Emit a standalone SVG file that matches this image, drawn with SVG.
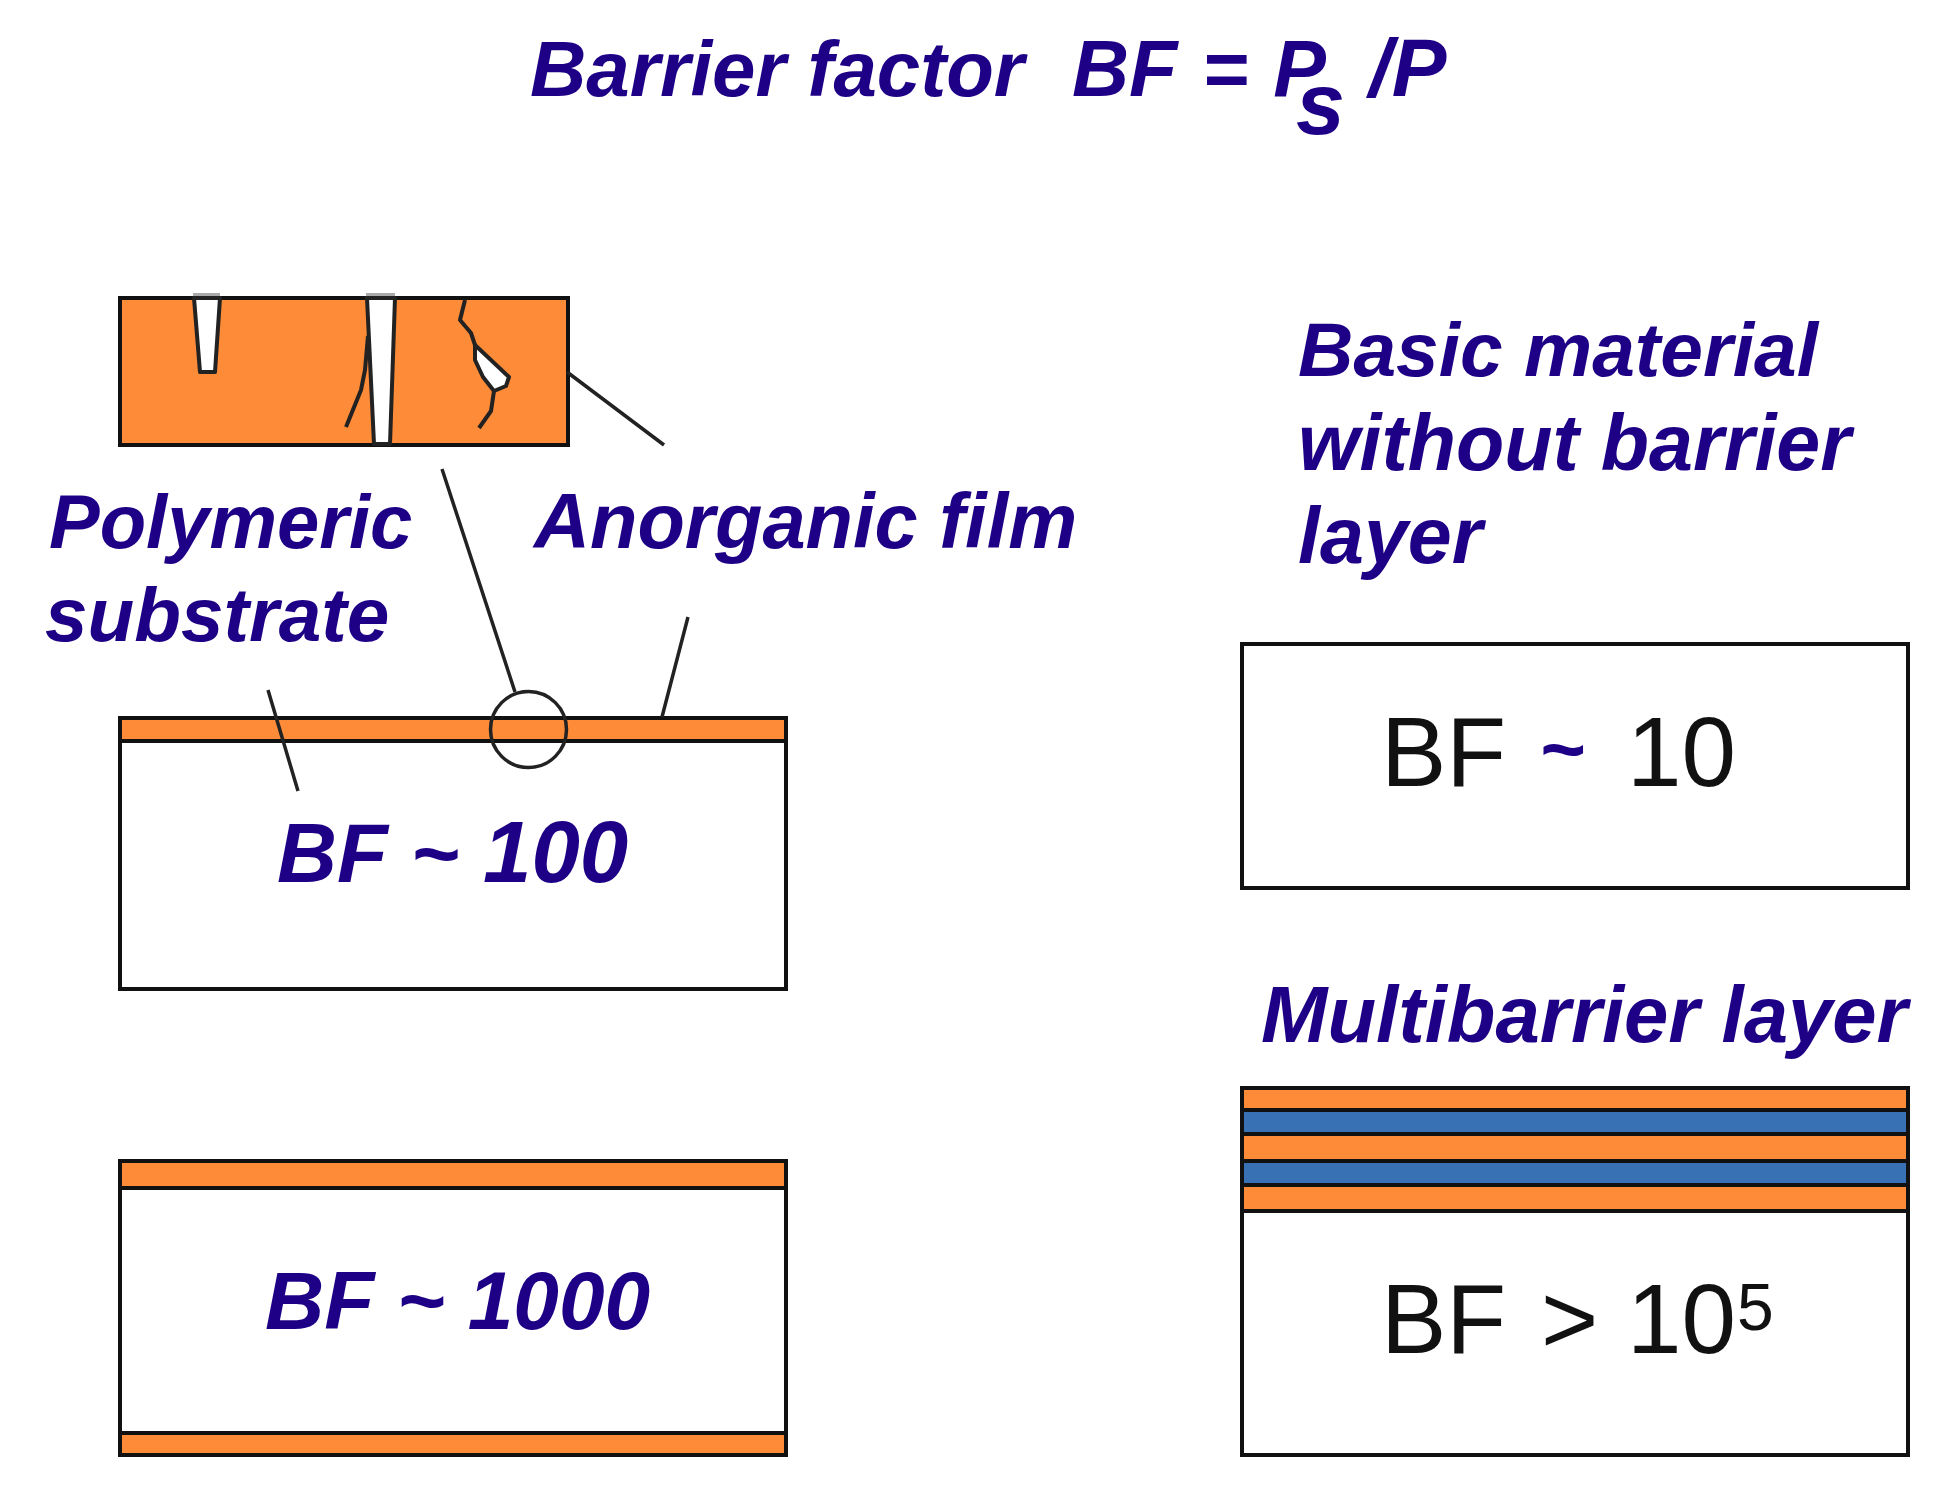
<svg xmlns="http://www.w3.org/2000/svg" width="1945" height="1490" viewBox="0 0 1945 1490">
<style>
.t{font-family:"Liberation Sans",Arial,sans-serif;font-weight:700;font-style:italic;font-size:78px;fill:#1d0085}
.d{font-family:"Liberation Sans",Arial,sans-serif;font-size:98px;fill:#111}
.b{fill:#fff;stroke:#111;stroke-width:4}
.o{fill:#fd8b38;stroke:#111;stroke-width:4}
.u{fill:#3872b5;stroke:#111;stroke-width:4}
.l{fill:none;stroke:#222;stroke-width:3.5}
.k{fill:none;stroke:#222;stroke-width:4;stroke-linejoin:round}
.c{fill:#fff;stroke:#222;stroke-width:4;stroke-linejoin:round}
.g{fill:#aaa}
</style>
<rect width="1945" height="1490" fill="#fff"/>
<g id="title"><text class="t" x="530" y="96">Barrier factor<tspan x="1072" word-spacing="3" style="font-size:79px">BF = P</tspan><tspan x="1296" y="134" style="font-size:88px">s</tspan><tspan x="1369" y="96" style="font-size:82px">/P</tspan></text></g>
<g id="film-detail">
<rect class="o" x="120" y="298" width="448" height="147"/>
<rect class="g" x="193" y="293" width="27" height="5"/>
<rect class="g" x="366" y="293" width="29" height="5"/>
<path class="c" d="M194 298L220 298L215 372L200 372Z"/>
<path class="c" d="M367 298L395 298L390 444L374 444Z"/>
<path class="k" d="M368 336L365 370L361 390L346 427"/>
<path class="k" d="M465 300L460 320L471 333L475 345"/>
<path class="c" d="M475 345L509 377L506 386L494 391L483 377L475 360Z"/>
<path class="k" d="M494 391L491 411L479 428"/>
</g>
<g id="labels">
<text class="t" x="49" y="548" style="font-size:76px">Polymeric</text><text class="t" x="45" y="641" style="font-size:76.5px">substrate</text>
<text class="t" x="534" y="548" style="font-size:77.600px">Anorganic film</text>
<text class="t" x="1298" y="376" style="font-size:76.7px">Basic material</text><text class="t" x="1298" y="470" style="font-size:79px">without barrier</text><text class="t" x="1298" y="563" style="font-size:79px">layer</text>
<text class="t" x="1261" y="1042" style="font-size:79.7px">Multibarrier layer</text>
</g>
<g id="bf100"><rect class="b" x="120" y="718" width="666" height="271"/><rect class="o" x="120" y="718" width="666" height="23"/><text class="t" x="277" y="882" style="font-size:83px">BF ~<tspan x="483" style="font-size:87px">100</tspan></text></g>
<g id="bf1000"><rect class="b" x="120" y="1161" width="666" height="294"/><rect class="o" x="120" y="1161" width="666" height="27"/><rect class="o" x="120" y="1433" width="666" height="22"/><text class="t" x="265" y="1329" style="font-size:82px">BF ~ 1000</text></g>
<g id="bf10"><rect class="b" x="1242" y="644" width="666" height="244"/><text class="d" x="1381" y="786">BF<tspan class="t" x="1539" y="776">~</tspan><tspan x="1627" y="786">10</tspan></text></g>
<g id="multi"><rect class="b" x="1242" y="1088" width="666" height="367"/>
<rect class="o" x="1242" y="1088" width="666" height="22"/><rect class="u" x="1242" y="1110" width="666" height="24"/><rect class="o" x="1242" y="1134" width="666" height="27"/><rect class="u" x="1242" y="1161" width="666" height="24"/><rect class="o" x="1242" y="1185" width="666" height="26"/>
<text class="d" x="1381" y="1353">BF<tspan x="1541">&gt;</tspan><tspan x="1627">10</tspan><tspan x="1737" y="1330" style="font-size:66px">5</tspan></text></g>
<g id="connectors">
<path class="l" d="M567 372L664 445M442 469L515 692M688 617L662 717M268 690L298 791"/>
<circle class="l" cx="528.500" cy="729.500" r="38"/>
</g>
</svg>
